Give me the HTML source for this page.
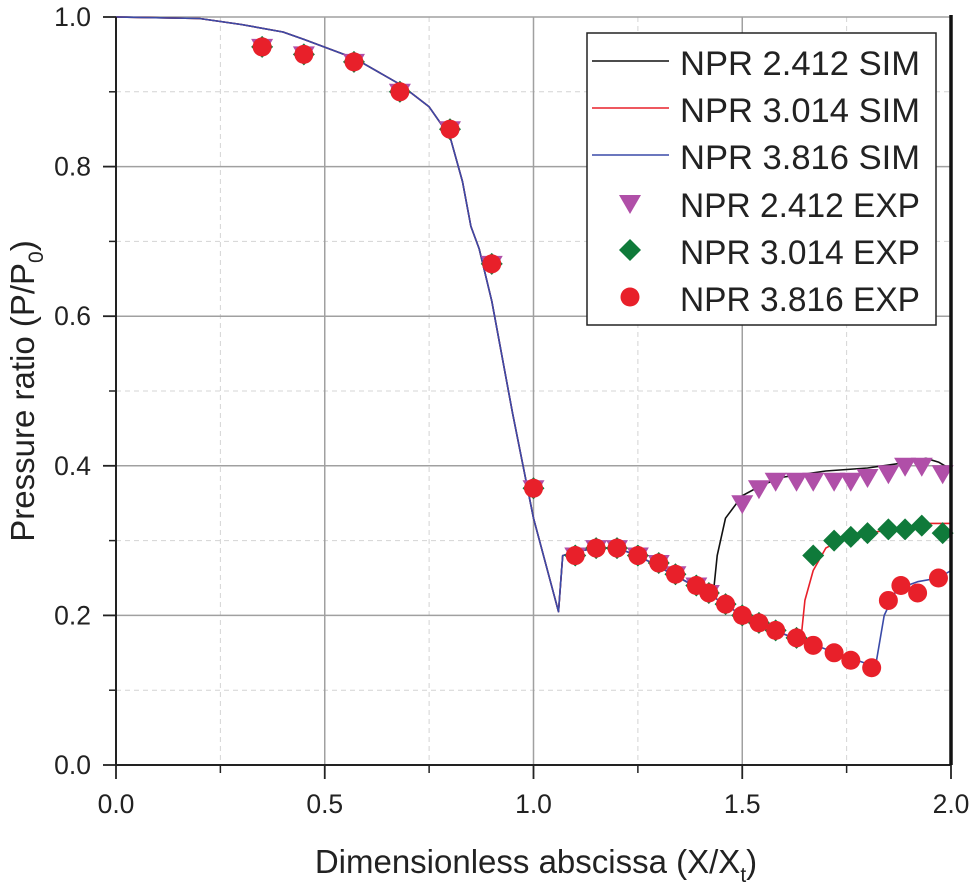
<!DOCTYPE html>
<html><head><meta charset="utf-8"><style>
html,body{margin:0;padding:0;background:#fff;}
svg{display:block;font-family:"Liberation Sans",Arial,sans-serif;}
</style></head><body>
<svg id="chart" width="971" height="895" viewBox="0 0 971 895">
<g id="grid"></g>
<g id="series"></g>
<g id="axes"></g>
<text x="536" y="873" font-size="33" text-anchor="middle" fill="#222">Dimensionless abscissa (X/X<tspan font-size="21" dy="9">t</tspan><tspan dy="-9">)</tspan></text>
<text transform="translate(34,391) rotate(-90)" font-size="33" text-anchor="middle" fill="#222">Pressure ratio (P/P<tspan font-size="21" dy="9">0</tspan><tspan dy="-9">)</tspan></text>
<g id="legend"></g>
</svg>
<script>
const xTicks=[0,0.5,1.0,1.5,2.0];
const xTickLabels=["0.0","0.5","1.0","1.5","2.0"];
const yTicks=[0,0.2,0.4,0.6,0.8,1.0];
const yTickLabels=["0.0","0.2","0.4","0.6","0.8","1.0"];
const commonX=[0.35,0.45,0.57,0.68,0.80,0.90,1.00,1.10,1.15,1.20,1.25,1.30,1.34,1.39,1.42];
const commonY=[0.96,0.95,0.94,0.90,0.85,0.67,0.37,0.28,0.29,0.29,0.28,0.27,0.255,0.24,0.23];
const exp2412X=[1.50,1.54,1.58,1.63,1.67,1.72,1.76,1.80,1.85,1.89,1.93,1.98];
const exp2412Y=[0.35,0.37,0.38,0.38,0.38,0.38,0.38,0.385,0.39,0.40,0.40,0.39];
const exp3014X=[1.46,1.50,1.54,1.58,1.63,1.67,1.72,1.76,1.80,1.85,1.89,1.93,1.98];
const exp3014Y=[0.215,0.20,0.19,0.18,0.17,0.28,0.30,0.305,0.31,0.315,0.315,0.32,0.31];
const exp3816X=[1.46,1.50,1.54,1.58,1.63,1.67,1.72,1.76,1.81,1.85,1.88,1.92,1.97];
const exp3816Y=[0.215,0.20,0.19,0.18,0.17,0.16,0.15,0.14,0.13,0.22,0.24,0.23,0.25];
const simBaseX=[0,0.2,0.3,0.4,0.45,0.57,0.68,0.75,0.80,0.83,0.85,0.87,0.90,0.95,1.0,1.06,1.07,1.1,1.15,1.2,1.25,1.3,1.35,1.4,1.43];
const simBaseY=[1.0,0.998,0.99,0.98,0.97,0.945,0.91,0.88,0.84,0.78,0.72,0.69,0.62,0.47,0.33,0.205,0.28,0.285,0.29,0.29,0.28,0.265,0.25,0.235,0.225];
const sim2412X=[1.44,1.46,1.5,1.55,1.6,1.7,1.8,1.9,1.94,1.97,2.0];
const sim2412Y=[0.28,0.33,0.36,0.375,0.385,0.393,0.397,0.405,0.41,0.405,0.395];
const sim3014X=[1.5,1.6,1.64,1.65,1.67,1.7,1.75,1.8,1.9,1.95,2.0];
const sim3014Y=[0.20,0.175,0.165,0.22,0.26,0.29,0.305,0.31,0.318,0.323,0.323];
const sim3816X=[1.5,1.6,1.7,1.8,1.82,1.84,1.87,1.92,1.97,2.0];
const sim3816Y=[0.20,0.175,0.155,0.135,0.135,0.20,0.235,0.245,0.25,0.26];

const X0=116,X1=951,Y0=765,Y1=17;
const sx=v=>X0+(v-0)/(2-0)*(X1-X0);
const sy=v=>Y0-(v-0)/(1-0)*(Y0-Y1);
const NS="http://www.w3.org/2000/svg";
function mk(tag,attrs,parent){const e=document.createElementNS(NS,tag);for(const k in attrs)e.setAttribute(k,attrs[k]);parent.appendChild(e);return e;}
const grid=document.getElementById('grid'),axes=document.getElementById('axes'),ser=document.getElementById('series'),leg=document.getElementById('legend');
for(let v=0.25;v<2;v+=0.5){const l=mk('line',{x1:sx(v),x2:sx(v),y1:Y1,y2:Y0,stroke:'#d4d4d4','stroke-dasharray':'5,4','stroke-width':1},grid);

}
for(let v=0.1;v<1;v+=0.2){const l=mk('line',{x1:X0,x2:X1,y1:sy(v),y2:sy(v),stroke:'#d4d4d4','stroke-dasharray':'5,4','stroke-width':1},grid);

}
xTicks.forEach((v,i)=>{const l=mk('line',{x1:sx(v),x2:sx(v),y1:Y1,y2:Y0,stroke:'#a0a0a0','stroke-width':1.5},grid);


const t=mk('text',{x:sx(v),y:813,'font-size':26.5,'text-anchor':'middle',fill:'#222'},axes);t.textContent=xTickLabels[i];


const tk=mk('line',{x1:sx(v),x2:sx(v),y1:Y0,y2:Y0+14,stroke:'#222','stroke-width':1.8},axes);

});
for(let v=0.25;v<2;v+=0.5){const tk=mk('line',{x1:sx(v),x2:sx(v),y1:Y0,y2:Y0+8,stroke:'#222','stroke-width':1.5},axes);

}
yTicks.forEach((v,i)=>{const l=mk('line',{x1:X0,x2:X1,y1:sy(v),y2:sy(v),stroke:'#a0a0a0','stroke-width':1.5},grid);


const t=mk('text',{x:91,y:sy(v)+9,'font-size':26.5,'text-anchor':'end',fill:'#222'},axes);t.textContent=yTickLabels[i];


const tk=mk('line',{x1:X0-13,x2:X0,y1:sy(v),y2:sy(v),stroke:'#222','stroke-width':1.8},axes);

});
for(let v=0.1;v<1;v+=0.2){const tk=mk('line',{x1:X0-7,x2:X0,y1:sy(v),y2:sy(v),stroke:'#222','stroke-width':1.5},axes);

}
const ax=mk('path',{d:`M${X0},${Y1}V${Y0}H${X1}`,fill:'none',stroke:'#222','stroke-width':2},axes);


const rb=mk('line',{x1:X1,x2:X1,y1:Y1-2,y2:Y0,stroke:'#111','stroke-width':3.5},axes);



function pts(xs,ys){return xs.map((x,i)=>sx(x).toFixed(1)+','+sy(ys[i]).toFixed(1)).join(' ');}
function line(xs,ys,col,name){const p=mk('polyline',{points:pts(xs,ys),fill:'none',stroke:col,'stroke-width':1.6,'stroke-linejoin':'round'},ser);

}
line(simBaseX.concat(sim2412X),simBaseY.concat(sim2412Y),'#111','sim-npr-2412-line');
line(simBaseX.concat(sim3014X),simBaseY.concat(sim3014Y),'#e8202a','sim-npr-3014-line');
line(simBaseX.concat(sim3816X),simBaseY.concat(sim3816Y),'#3a4aa8','sim-npr-3816-line');
function tri(cx,cy,col,par){return mk('path',{d:`M${cx-11},${cy-8}H${cx+11}L${cx},${cy+11}Z`,fill:col},par);}
function dia(cx,cy,col,par){return mk('path',{d:`M${cx},${cy-11}L${cx+11},${cy}L${cx},${cy+11}L${cx-11},${cy}Z`,fill:col},par);}
function cir(cx,cy,col,par){return mk('circle',{cx:cx,cy:cy,r:9.5,fill:col},par);}
const TRI='#b04fa8',DIA='#0f7a3a',CIR='#e8202a';
commonX.concat(exp2412X).forEach((x,i)=>{const y=commonY.concat(exp2412Y)[i];const e=tri(sx(x),sy(y),TRI,ser);

});
commonX.concat(exp3014X).forEach((x,i)=>{const y=commonY.concat(exp3014Y)[i];const e=dia(sx(x),sy(y),DIA,ser);

});
commonX.concat(exp3816X).forEach((x,i)=>{const y=commonY.concat(exp3816Y)[i];const e=cir(sx(x),sy(y),CIR,ser);

});

const lb=mk('rect',{x:587,y:33,width:349,height:292,fill:'#fff',stroke:'#222','stroke-width':1.5},leg);


const labels=["NPR 2.412 SIM","NPR 3.014 SIM","NPR 3.816 SIM","NPR 2.412 EXP","NPR 3.014 EXP","NPR 3.816 EXP"];
const ly=[61,108,155,203,250,297];
labels.forEach((s,i)=>{const g=mk('g',{},leg);


if(i<3){mk('line',{x1:592,x2:669,y1:ly[i],y2:ly[i],stroke:['#111','#e8202a','#3a4aa8'][i],'stroke-width':1.6},g);}
else if(i===3)tri(630,ly[i],TRI,g);else if(i===4)dia(630,ly[i],DIA,g);else cir(630,ly[i],CIR,g);
const t=mk('text',{x:680,y:ly[i]+14,'font-size':34,fill:'#222',textLength:240,lengthAdjust:'spacingAndGlyphs'},g);t.textContent=s;});
</script>
</body></html>
